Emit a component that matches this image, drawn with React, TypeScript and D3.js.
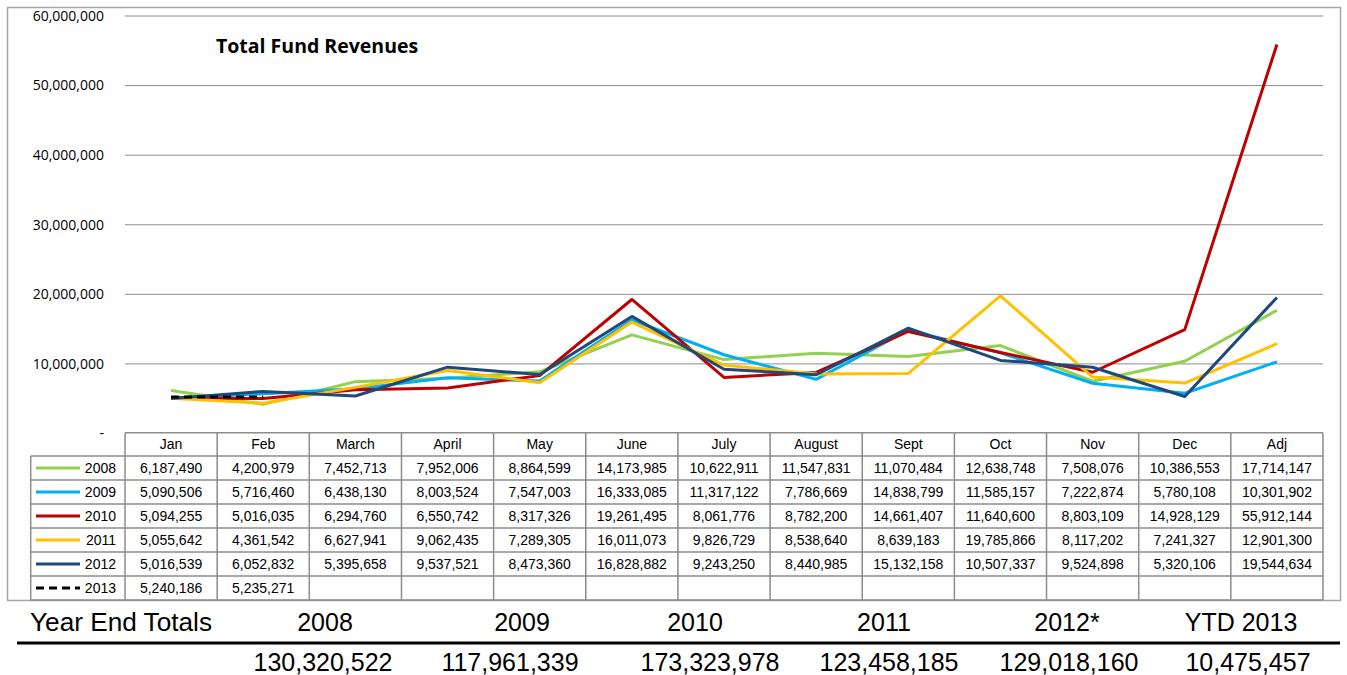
import React from "react";
import * as d3 from "d3";

const months = ["Jan", "Feb", "March", "April", "May", "June", "July", "August", "Sept", "Oct", "Nov", "Dec", "Adj"];
const years = ["2008", "2009", "2010", "2011", "2012", "2013"];
const v2008 = [6187490, 4200979, 7452713, 7952006, 8864599, 14173985, 10622911, 11547831, 11070484, 12638748, 7508076, 10386553, 17714147];
const v2009 = [5090506, 5716460, 6438130, 8003524, 7547003, 16333085, 11317122, 7786669, 14838799, 11585157, 7222874, 5780108, 10301902];
const v2010 = [5094255, 5016035, 6294760, 6550742, 8317326, 19261495, 8061776, 8782200, 14661407, 11640600, 8803109, 14928129, 55912144];
const v2011 = [5055642, 4361542, 6627941, 9062435, 7289305, 16011073, 9826729, 8538640, 8639183, 19785866, 8117202, 7241327, 12901300];
const v2012 = [5016539, 6052832, 5395658, 9537521, 8473360, 16828882, 9243250, 8440985, 15132158, 10507337, 9524898, 5320106, 19544634];
const v2013 = [5240186, 5235271];
const seriesColors = ["#92D050", "#00B0F0", "#C00000", "#FFC000", "#1F497D", "#000000"];
const yTicks = [0, 10000000, 20000000, 30000000, 40000000, 50000000, 60000000];
const totalLabels = ["2008", "2009", "2010", "2011", "2012*", "YTD 2013"];
const totalValues = ["130,320,522", "117,961,339", "173,323,978", "123,458,185", "129,018,160", "10,475,457"];

const allSeries = [v2008, v2009, v2010, v2011, v2012, v2013];

export default function App() {
  const W = 1347, H = 675;
  const left = 125, right = 1323;
  const x = d3.scaleBand<string>().domain(months).range([left, right]).padding(0);
  const bw = x.bandwidth();
  const cx = (m: string) => (x(m) as number) + bw / 2;
  const y = d3.scaleLinear().domain([0, 60000000]).range([433.5, 16]);
  const fmt = d3.format(",");
  const line = d3.line<number>().x((_, i) => cx(months[i])).y((d) => y(d));

  const headerTop = 432.7, headerBot = 456, rowH = 24;
  const legLeft = 30.7;
  const tableBottom = headerBot + rowH * 6;
  const gray = "#8c8c8c";
  const tableFont = "'Liberation Sans', Arial, sans-serif";
  const axisFont = "'Open Sans', 'DejaVu Sans', sans-serif";

  const totalsHeaderX = [325, 522, 695, 884, 1067, 1241];
  const totalsValueX = [323, 510, 710, 889, 1069, 1248];

  return (
    <svg width={W} height={H} style={{ position: "absolute", left: 0, top: 0, background: "#fff" }}>
      <rect x={0} y={0} width={W} height={H} fill="#fff" />
      {/* frame */}
      <rect x={7.5} y={7.5} width={1333} height={593} fill="none" stroke="#a6a6a6" strokeWidth={1.5} />
      {/* gridlines */}
      {yTicks.map((t) =>
        t > 0 ? (
          <line key={"g" + t} x1={left} x2={right} y1={y(t)} y2={y(t)} stroke="#8c8c8c" strokeWidth={1} />
        ) : null
      )}
      {yTicks.map((t) => (
        <text
          key={"t" + t}
          x={t === 0 ? 104 : 104}
          y={y(t)}
          dy="0.35em"
          textAnchor="end"
          fontFamily={axisFont}
          fontSize={14}
          fill="#000"
        >
          {t === 0 ? "-" : fmt(t)}
        </text>
      ))}
      <text x={216} y={53} fontFamily={axisFont} fontWeight="bold" fontSize={19.5} fill="#000">
        Total Fund Revenues
      </text>
      {/* lines */}
      {allSeries.map((s, i) => (
        <path
          key={"l" + i}
          d={line(s) as string}
          fill="none"
          stroke={seriesColors[i]}
          strokeWidth={3}
          strokeLinejoin="round"
          strokeDasharray={i === 5 ? "8,5" : undefined}
        />
      ))}
      {/* table header */}
      <g fontFamily={tableFont} fontSize={14} fill="#000">
        {months.map((m) => (
          <text key={"h" + m} x={cx(m)} y={(headerTop + headerBot) / 2} dy="0.35em" textAnchor="middle">
            {m}
          </text>
        ))}
        {allSeries.map((s, r) => {
          const yc = headerBot + rowH * r + rowH / 2;
          return (
            <g key={"r" + r}>
              <line
                x1={36}
                x2={80}
                y1={yc}
                y2={yc}
                stroke={seriesColors[r]}
                strokeWidth={3}
                strokeDasharray={r === 5 ? "8,5" : undefined}
              />
              <text x={116} y={yc} dy="0.35em" textAnchor="end">
                {years[r]}
              </text>
              {s.map((v, i) => (
                <text key={i} x={cx(months[i])} y={yc} dy="0.35em" textAnchor="middle">
                  {fmt(v)}
                </text>
              ))}
            </g>
          );
        })}
      </g>
      {/* table grid */}
      <g stroke={gray} strokeWidth={1.5} fill="none">
        <line x1={left} x2={right} y1={headerTop} y2={headerTop} />
        {d3.range(7).map((r) => (
          <line key={"hl" + r} x1={legLeft} x2={right} y1={headerBot + rowH * r} y2={headerBot + rowH * r} />
        ))}
        <line x1={legLeft} x2={legLeft} y1={headerBot} y2={tableBottom} />
        {months.map((m) => (
          <line key={"vl" + m} x1={x(m) as number} x2={x(m) as number} y1={headerTop} y2={tableBottom} />
        ))}
        <line x1={right} x2={right} y1={headerTop} y2={tableBottom} />
      </g>
      {/* year end totals */}
      <g fontFamily={tableFont} fontSize={25} fill="#000">
        <text x={30} y={631} textLength={182} lengthAdjust="spacingAndGlyphs">Year End Totals</text>
        {totalLabels.map((l, i) => (
          <text key={"tl" + i} x={totalsHeaderX[i]} y={631} textAnchor="middle">
            {l}
          </text>
        ))}
        {totalValues.map((v, i) => (
          <text key={"tv" + i} x={totalsValueX[i]} y={671} textAnchor="middle">
            {v}
          </text>
        ))}
      </g>
      <line x1={17} x2={1340} y1={643} y2={643} stroke="#000" strokeWidth={3} />
    </svg>
  );
}
